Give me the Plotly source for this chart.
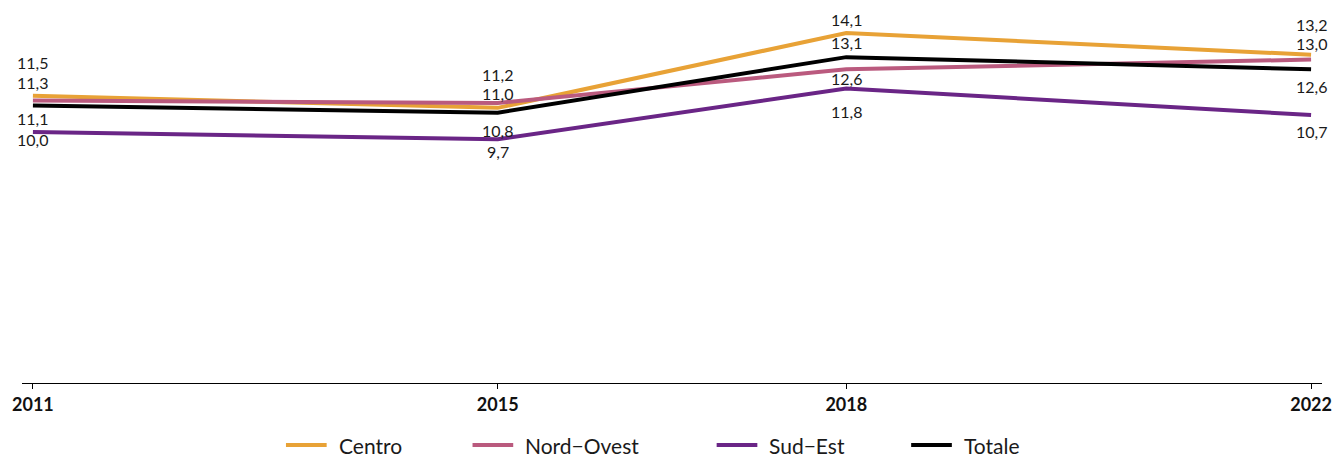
import plotly.graph_objects as go

years = [2011, 2015, 2018, 2022]
series_names = ["Centro", "Nord\u2212Ovest", "Sud\u2212Est", "Totale"]
centro = [11.5, 11.0, 14.1, 13.2]
nord_ovest = [11.3, 11.2, 12.6, 13.0]
sud_est = [10.0, 9.7, 11.8, 10.7]
totale = [11.1, 10.8, 13.1, 12.6]

colors = ["#E8A236", "#BA5A7E", "#6A2586", "#000000"]
values = [centro, nord_ovest, sud_est, totale]

# label vertical offsets in px (positive = above line), per series per year
label_shift = [
    [33, 14, 13, 30],
    [18, 29, -9, 16],
    [-7, -12, -23, -16],
    [-13, -18, 15, -17],
]

W, H = 1343, 457
ML, MR, MT, MB = 22, 11, 20, 74
PW = W - ML - MR
PH = H - MT - MB
AXIS_Y = H - MB
FONT = "Lato"

fig = go.Figure()
for name, vals, col in zip(series_names, values, colors):
    fig.add_trace(go.Scatter(x=years, y=vals, mode="lines", name=name,
                             line=dict(color=col, width=4), showlegend=False,
                             hoverinfo="skip"))

annotations = []
for vals, shifts in zip(values, label_shift):
    for x, v, s in zip(years, vals, shifts):
        annotations.append(dict(x=x, y=v, xref="x", yref="y",
                                text=f"{v:.1f}".replace(".", ","),
                                showarrow=False, yshift=s,
                                xanchor="center", yanchor="middle",
                                font=dict(family=FONT, size=16, color="#1a1a1a")))

# custom legend (positions given in window pixels)
def px_to_paper_x(px):
    return (px - ML) / PW

leg_y = (AXIS_Y - 445) / PH
leg_line_starts = [288, 476, 722, 918]
shapes = []
for name, col, lx in zip(series_names, colors, leg_line_starts):
    shapes.append(dict(type="line", xref="paper", yref="paper",
                       x0=px_to_paper_x(lx), x1=px_to_paper_x(lx + 41),
                       y0=leg_y, y1=leg_y, line=dict(color=col, width=4)))
    annotations.append(dict(x=px_to_paper_x(lx + 51), y=leg_y, xref="paper", yref="paper",
                            text=name, showarrow=False, xanchor="left", yanchor="middle",
                            font=dict(family=FONT, size=21, color="#1a1a1a")))

fig.update_layout(
    width=W, height=H,
    margin=dict(l=ML, r=MR, t=MT, b=MB),
    paper_bgcolor="white", plot_bgcolor="white",
    showlegend=False,
    annotations=annotations,
    shapes=shapes,
    xaxis=dict(range=[2011 - 11 / 117.06, 2022 + 11 / 117.06],
               tickvals=years, ticktext=[str(y) for y in years],
               showline=True, linecolor="black", linewidth=1,
               ticks="outside", ticklen=5, tickcolor="black",
               showgrid=False, zeroline=False,
               tickfont=dict(family=FONT, size=18, color="#111111", weight=700)),
    yaxis=dict(range=[-0.393, 14.638], visible=False, showgrid=False, zeroline=False),
)

fig.write_html(
    "out.html",
    config={"displayModeBar": False},
    post_script="document.body.style.margin='0px';document.body.style.overflow='hidden';",
)
